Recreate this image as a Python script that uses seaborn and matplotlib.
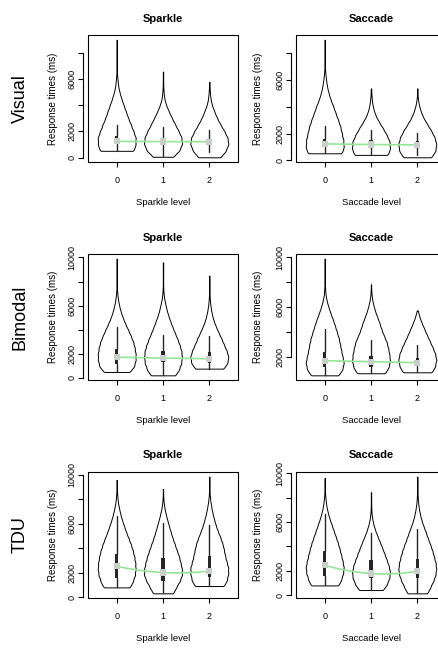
import numpy as np
import pandas as pd
import matplotlib
matplotlib.use("Agg")
import matplotlib.pyplot as plt
import seaborn as sns

# the three levels on every x axis
levels = [0, 1, 2]

# violin outlines: response times (ms) and relative violin width read at each of them
vis_spk_rt = [
    [515, 1015, 1515, 2015, 2515, 3015, 3515, 4015, 4515, 5015, 5515, 6015, 6515, 7015, 7515, 8015, 8515, 9000],
    [60, 560, 1060, 1560, 2060, 2560, 3060, 3560, 4060, 4560, 5060, 5560, 6060, 6560],
    [20, 520, 1020, 1520, 2020, 2520, 3020, 3520, 4020, 4520, 5020, 5520, 5790],
]
vis_spk_w = [
    [0.93, 0.98, 1.0, 0.87, 0.74, 0.6, 0.48, 0.36, 0.24, 0.14, 0.07, 0.04, 0.01, 0.01, 0.01, 0.01, 0.01, 0.01],
    [0.55, 0.87, 1.0, 0.96, 0.8, 0.62, 0.45, 0.29, 0.15, 0.06, 0.03, 0.01, 0.01, 0.01],
    [0.6, 0.86, 1.0, 0.95, 0.78, 0.58, 0.4, 0.26, 0.13, 0.06, 0.03, 0.01, 0.01],
]
vis_sac_rt = [
    [526, 1026, 1526, 2026, 2526, 3026, 3526, 4026, 4526, 5026, 5526, 6026, 6526, 7026, 7526, 8026, 8526, 9000],
    [406, 906, 1406, 1906, 2406, 2906, 3406, 3906, 4406, 4906, 5368],
    [226, 726, 1226, 1726, 2226, 2726, 3226, 3726, 4226, 4726, 5368],
]
vis_sac_w = [
    [0.95, 1.0, 0.98, 0.9, 0.82, 0.7, 0.57, 0.45, 0.31, 0.2, 0.12, 0.07, 0.03, 0.01, 0.01, 0.01, 0.01, 0.01],
    [0.93, 1.0, 0.98, 0.82, 0.62, 0.4, 0.22, 0.11, 0.05, 0.02, 0.01],
    [0.77, 0.95, 1.0, 0.9, 0.72, 0.5, 0.3, 0.16, 0.07, 0.02, 0.01],
]
bim_spk_rt = [
    [500, 1000, 1500, 2000, 2500, 3000, 3500, 4000, 4500, 5000, 5500, 6000, 6500, 7000, 7500, 8000, 8500, 9000, 9500, 9900],
    [220, 720, 1220, 1720, 2220, 2720, 3220, 3720, 4220, 4720, 5220, 5720, 6220, 6720, 7220, 7720, 8220, 8720, 9220, 9590],
    [775, 1275, 1775, 2275, 2775, 3275, 3775, 4275, 4775, 5275, 5775, 6275, 6775, 7275, 7775, 8275, 8490],
]
bim_spk_w = [
    [0.72, 0.93, 1.0, 1.0, 0.95, 0.87, 0.74, 0.6, 0.45, 0.32, 0.21, 0.13, 0.07, 0.03, 0.01, 0.01, 0.01, 0.01, 0.01, 0.01],
    [0.68, 0.85, 0.96, 1.0, 0.97, 0.88, 0.76, 0.63, 0.5, 0.38, 0.27, 0.18, 0.11, 0.05, 0.02, 0.01, 0.01, 0.01, 0.01, 0.01],
    [0.78, 0.95, 1.0, 0.9, 0.76, 0.63, 0.48, 0.34, 0.22, 0.14, 0.08, 0.04, 0.02, 0.01, 0.01, 0.01, 0.01],
]
bim_sac_rt = [
    [533, 1033, 1533, 2033, 2533, 3033, 3533, 4033, 4533, 5033, 5533, 6033, 6533, 7033, 7533, 8033, 8533, 9033, 9533, 9900],
    [700, 1200, 1700, 2200, 2700, 3200, 3700, 4200, 4700, 5200, 5700, 6200, 6700, 7200, 7840],
    [776, 1276, 1776, 2276, 2776, 3276, 3776, 4276, 4776, 5276, 5740],
]
bim_sac_w = [
    [0.76, 0.93, 1.0, 0.93, 0.86, 0.8, 0.73, 0.63, 0.53, 0.42, 0.3, 0.19, 0.1, 0.04, 0.02, 0.01, 0.01, 0.01, 0.01, 0.01],
    [0.78, 0.92, 1.0, 0.96, 0.9, 0.82, 0.68, 0.55, 0.45, 0.33, 0.21, 0.12, 0.05, 0.02, 0.01],
    [0.8, 0.93, 1.0, 0.93, 0.8, 0.65, 0.5, 0.36, 0.22, 0.1, 0.02],
]
tdu_spk_rt = [
    [810, 1310, 1810, 2310, 2810, 3310, 3810, 4310, 4810, 5310, 5810, 6310, 6810, 7310, 7810, 8310, 8810, 9310, 9590],
    [325, 825, 1325, 1825, 2325, 2825, 3325, 3825, 4325, 4825, 5325, 5825, 6325, 6825, 7325, 7825, 8325, 8860],
    [920, 1420, 1920, 2420, 2920, 3420, 3920, 4420, 4920, 5420, 5920, 6420, 6920, 7420, 7920, 8420, 8920, 9420, 9860],
]
tdu_spk_w = [
    [0.73, 0.85, 0.96, 1.0, 0.98, 0.93, 0.85, 0.75, 0.63, 0.5, 0.39, 0.28, 0.19, 0.12, 0.06, 0.03, 0.01, 0.01, 0.01],
    [0.55, 0.68, 0.87, 0.99, 0.98, 0.91, 0.83, 0.72, 0.61, 0.5, 0.4, 0.31, 0.22, 0.14, 0.07, 0.03, 0.01, 0.01],
    [0.8, 0.92, 0.99, 0.99, 0.9, 0.82, 0.76, 0.68, 0.57, 0.44, 0.33, 0.24, 0.16, 0.1, 0.05, 0.02, 0.01, 0.01, 0.01],
]
tdu_sac_rt = [
    [790, 1290, 1790, 2290, 2790, 3290, 3790, 4290, 4790, 5290, 5790, 6290, 6790, 7290, 7790, 8290, 8790, 9290, 9620],
    [410, 910, 1410, 1910, 2410, 2910, 3410, 3910, 4410, 4910, 5410, 5910, 6410, 6910, 7410, 7910, 8450],
    [140, 640, 1140, 1640, 2140, 2640, 3140, 3640, 4140, 4640, 5140, 5640, 6140, 6640, 7140, 7640, 8140, 8640, 9140, 9730],
]
tdu_sac_w = [
    [0.76, 0.87, 0.97, 1.0, 0.94, 0.86, 0.78, 0.69, 0.58, 0.47, 0.36, 0.25, 0.16, 0.09, 0.05, 0.02, 0.01, 0.01, 0.01],
    [0.66, 0.84, 0.97, 1.0, 0.93, 0.82, 0.7, 0.58, 0.45, 0.32, 0.2, 0.11, 0.05, 0.02, 0.01, 0.01, 0.01],
    [0.55, 0.68, 0.84, 0.95, 1.0, 0.96, 0.88, 0.79, 0.68, 0.56, 0.45, 0.33, 0.22, 0.14, 0.08, 0.04, 0.02, 0.01, 0.01, 0.01],
]

# inner boxplots: median, quartiles and whisker ends (ms)
vis_spk_med = [1240, 1220, 1210]
vis_spk_q1 = [1020, 950, 1035]
vis_spk_q3 = [1620, 1500, 1450]
vis_spk_lo = [515, 110, 410]
vis_spk_hi = [2515, 2330, 2080]

vis_sac_med = [1230, 1180, 1160]
vis_sac_q1 = [990, 980, 1040]
vis_sac_q3 = [1610, 1480, 1450]
vis_sac_lo = [526, 406, 430]
vis_sac_hi = [2530, 2230, 2060]

bim_spk_med = [1735, 1650, 1600]
bim_spk_q1 = [1150, 1320, 1280]
bim_spk_q3 = [2400, 2200, 2150]
bim_spk_lo = [500, 220, 775]
bim_spk_hi = [4250, 3550, 3450]

bim_sac_med = [1710, 1630, 1550]
bim_sac_q1 = [1230, 1225, 1280]
bim_sac_q3 = [2430, 2100, 1950]
bim_sac_lo = [533, 700, 776]
bim_sac_hi = [4290, 3410, 2960]

tdu_spk_med = [2545, 2030, 2140]
tdu_spk_q1 = [1545, 1350, 1680]
tdu_spk_q3 = [3577, 3250, 3360]
tdu_spk_lo = [810, 325, 920]
tdu_spk_hi = [6625, 6100, 5880]

tdu_sac_med = [2450, 1770, 1960]
tdu_sac_q1 = [1580, 1360, 1360]
tdu_sac_q3 = [3600, 2860, 3000]
tdu_sac_lo = [790, 410, 140]
tdu_sac_hi = [6640, 5110, 5460]

# y ticks (R leaves out the labels that would collide)
yt_vis = [0, 2000, 4000, 6000, 8000]
yl_vis = ["0", "2000", "", "6000", ""]
yt_full = [0, 2000, 4000, 6000, 8000, 10000]
yl_full = ["0", "2000", "", "6000", "", "10000"]
yt_bim_sac = [2000, 4000, 6000, 8000, 10000]
yl_bim_sac = ["2000", "", "6000", "", "10000"]

row_names = ["Visual", "Bimodal", "TDU"]
col_names = ["Sparkle", "Saccade"]

panels = [
    (0, 0, vis_spk_rt, vis_spk_w, vis_spk_med, vis_spk_q1, vis_spk_q3, vis_spk_lo, vis_spk_hi, yt_vis, yl_vis),
    (0, 1, vis_sac_rt, vis_sac_w, vis_sac_med, vis_sac_q1, vis_sac_q3, vis_sac_lo, vis_sac_hi, yt_vis, yl_vis),
    (1, 0, bim_spk_rt, bim_spk_w, bim_spk_med, bim_spk_q1, bim_spk_q3, bim_spk_lo, bim_spk_hi, yt_full, yl_full),
    (1, 1, bim_sac_rt, bim_sac_w, bim_sac_med, bim_sac_q1, bim_sac_q3, bim_sac_lo, bim_sac_hi, yt_bim_sac, yl_bim_sac),
    (2, 0, tdu_spk_rt, tdu_spk_w, tdu_spk_med, tdu_spk_q1, tdu_spk_q3, tdu_spk_lo, tdu_spk_hi, yt_full, yl_full),
    (2, 1, tdu_sac_rt, tdu_sac_w, tdu_sac_med, tdu_sac_q1, tdu_sac_q3, tdu_sac_lo, tdu_sac_hi, yt_full, yl_full),
]

sns.set_style("ticks", {"axes.edgecolor": "black", "xtick.color": "black", "ytick.color": "black",
                        "text.color": "black", "axes.labelcolor": "black"})
plt.rcParams["font.family"] = ["Liberation Sans", "DejaVu Sans"]

W, H = 439, 648
fig = plt.figure(figsize=(W / 100, H / 100), dpi=100)

# panel boxes in pixels: rows (top, bottom), columns (left, right)
row_px = [(35, 162), (254, 380), (472, 598)]
col_px = [(88, 238), (296, 446)]
ylab_x = [-0.231, -0.251]

for r, c, rts, ws, med, q1, q3, lo, hi, yt, yl in panels:
    top, bot = row_px[r]
    left, right = col_px[c]
    ax = fig.add_axes([left / W, 1 - bot / H, (right - left) / W, (bot - top) / H])

    parts = []
    for lev, rt, w in zip(levels, rts, ws):
        n = np.maximum(1, np.round(np.array(w) * 100)).astype(int)
        parts.append(pd.DataFrame({"level": lev, "rt": np.repeat(rt, n)}))
    df = pd.concat(parts, ignore_index=True)

    sns.violinplot(data=df, x="level", y="rt", color="white", linecolor="black", linewidth=0.7,
                   inner=None, cut=0, density_norm="width", width=0.82, saturation=1, gridsize=300,
                   bw_method=lambda k: 260 / np.std(k.dataset, ddof=1), ax=ax)

    stats = [dict(med=m, q1=a, q3=b, whislo=d, whishi=e) for m, a, b, d, e in zip(med, q1, q3, lo, hi)]
    ax.bxp(stats, positions=levels, widths=0.065, patch_artist=True, showfliers=False, showcaps=False,
           boxprops=dict(facecolor="#262626", edgecolor="#262626", linewidth=0),
           whiskerprops=dict(color="#262626", linewidth=1.0),
           medianprops=dict(linewidth=0), manage_ticks=False, zorder=3)

    sns.regplot(x=levels, y=med, order=2, ci=None, scatter=False, truncate=True,
                line_kws=dict(color="#96e596", lw=1.2, zorder=4), ax=ax)
    sns.scatterplot(x=levels, y=med, marker="s", s=20, color="#c8cec8", edgecolor="none",
                    zorder=5, legend=False, ax=ax)

    allrt = np.concatenate([np.array(v) for v in rts])
    pad = 0.04 * (allrt.max() - allrt.min())
    ax.set_ylim(allrt.min() - pad, allrt.max() + pad)
    ax.set_xlim(-0.62, 2.62)
    ax.set_xticks(levels)
    ax.set_xticklabels([str(v) for v in levels])
    ax.set_yticks(yt)
    ax.set_yticklabels(yl)

    for s in ["top", "right", "bottom"]:
        ax.spines[s].set_visible(False)
    ax.spines["left"].set_position(("outward", 3.6))
    ax.spines["left"].set_bounds(yt[0], yt[-1])
    ax.spines["left"].set_linewidth(0.8)
    ax.add_patch(plt.Rectangle((0, 0), 1, 1, transform=ax.transAxes, fill=False,
                               ec="black", lw=0.8, clip_on=False, zorder=10))

    ax.tick_params(axis="both", direction="out", length=3.6, width=0.8, labelsize=6.5)
    ax.tick_params(axis="x", pad=6.5)
    ax.tick_params(axis="y", pad=1.2, labelrotation=90)
    for t in ax.get_yticklabels():
        t.set_va("center")

    ax.set_title(col_names[c], fontsize=8, fontweight="bold", y=1 + 16.5 / (bot - top), va="center", pad=0)
    ax.set_xlabel(f"{col_names[c]} level", fontsize=6.8, va="center")
    ax.xaxis.set_label_coords(0.5, -40.5 / (bot - top))
    ax.set_ylabel("Response times (ms)", fontsize=7, va="center")
    ax.yaxis.set_label_coords(ylab_x[c], 0.5)

for r, name in enumerate(row_names):
    top, bot = row_px[r]
    fig.text(20 / W, 1 - (top + bot) / 2 / H, name, rotation=90, ha="center", va="center", fontsize=13)

fig.savefig("out.png", dpi=100)
